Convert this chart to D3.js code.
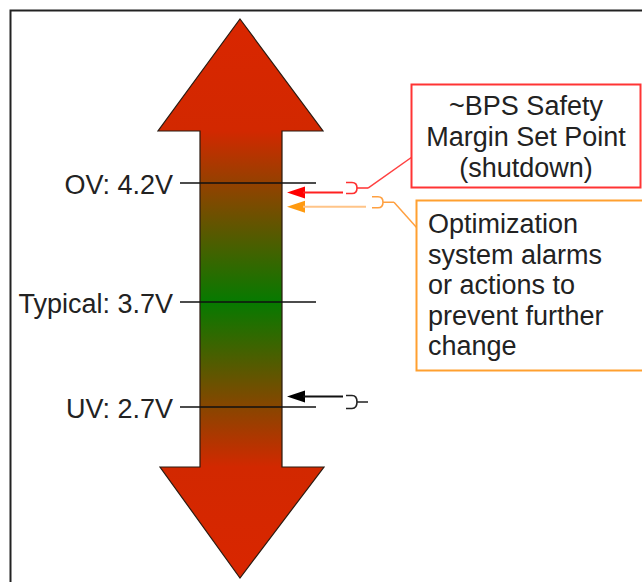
<!DOCTYPE html>
<html>
<head>
<meta charset="utf-8">
<script src="https://cdn.jsdelivr.net/npm/d3@7"></script>
<style>
  body { margin: 0; background: #fff; }
  text { font-family: "Liberation Sans", Arial, sans-serif; }
</style>
</head>
<body>
<div id="chart"></div>
<script>
// voltage levels marked on the arrow
var levelLabels = ["OV: 4.2V", "Typical: 3.7V", "UV: 2.7V"];
var levelVolts = [4.2, 3.7, 2.7];

// pointers on the right side of the arrow
var pointerNames = ["shutdown", "optimization", "undervoltage"];
var pointerVolts = [4.16, 4.10, 2.80];

// callout texts
var redBoxLines = ["~BPS Safety", "Margin Set Point", "(shutdown)"];
var orangeBoxLines = ["Optimization", "system alarms", "or actions to", "prevent further", "change"];

var width = 642;
var height = 582;

var svg = d3.select("#chart")
  .append("svg")
  .attr("width", width)
  .attr("height", height);

// piecewise scale from volts to vertical position
var y = d3.scaleLinear()
  .domain([4.2, 3.7, 2.7])
  .range([183, 302, 407]);

var cx = 240; // arrow centre
var shaftL = 200, shaftR = 282;
var headL = 158, headR = 323;
var topTip = 19, topBase = 131, botBase = 467, botTip = 578;

// gradient red -> green -> red
var defs = svg.append("defs");
var grad = defs.append("linearGradient")
  .attr("id", "volt")
  .attr("gradientUnits", "userSpaceOnUse")
  .attr("x1", 0).attr("x2", 0)
  .attr("y1", topTip).attr("y2", botTip);

function off(py) { return (py - topTip) / (botTip - topTip); }

grad.append("stop").attr("offset", 0).attr("stop-color", "#d92600");
grad.append("stop").attr("offset", off(topBase)).attr("stop-color", "#d22800");
grad.append("stop").attr("offset", off(y(3.7))).attr("stop-color", "#067a00");
grad.append("stop").attr("offset", off(botBase)).attr("stop-color", "#d22800");
grad.append("stop").attr("offset", 1).attr("stop-color", "#d92600");

// frame (top and left edges)
svg.append("path")
  .attr("d", "M10.5," + height + "V10.5H" + width)
  .attr("fill", "none")
  .attr("stroke", "#222")
  .attr("stroke-width", 2);

// the double arrow
var arrowPts = [
  [cx, topTip], [headR, topBase], [shaftR, topBase], [shaftR, botBase],
  [headR + 1, botBase], [cx, botTip], [headL + 2, botBase], [shaftL, botBase],
  [shaftL, topBase], [headL, topBase]
];
svg.append("path")
  .attr("d", d3.line()(arrowPts) + "Z")
  .attr("fill", "url(#volt)")
  .attr("stroke", "#2a1a10")
  .attr("stroke-width", 1.2);

// level lines and labels
var levels = svg.selectAll("g.level")
  .data(levelLabels)
  .enter()
  .append("g")
  .attr("class", "level");

levels.append("line")
  .attr("x1", 180).attr("x2", 316)
  .attr("y1", function(d, i) { return y(levelVolts[i]); })
  .attr("y2", function(d, i) { return y(levelVolts[i]); })
  .attr("stroke", "#111")
  .attr("stroke-width", 1.5);

levels.append("text")
  .attr("x", 173)
  .attr("y", function(d, i) { return y(levelVolts[i]) + 10.5; })
  .attr("text-anchor", "end")
  .attr("font-size", 27)
  .attr("fill", "#222")
  .text(function(d) { return d; });

// pointers
var headColors = ["#ff0000", "#ff9a10", "#000"];
var lineColors = ["#ff2020", "#ffc488", "#111"];
var brColors = ["#ff3030", "#ffa040", "#222"];
var lineEnd = [343, 366, 343];
var brX = [346, 372, 346];

pointerNames.forEach(function(name, i) {
  var py = y(pointerVolts[i]);
  var g = svg.append("g").attr("class", "pointer " + name);
  var tip = shaftR + 5;
  g.append("path")
    .attr("d", "M" + tip + "," + py + "L" + (tip + 18) + "," + (py - 6) +
      "L" + (tip + 18) + "," + (py + 6) + "Z")
    .attr("fill", headColors[i]);
  g.append("line")
    .attr("x1", tip + 16).attr("x2", lineEnd[i])
    .attr("y1", py).attr("y2", py)
    .attr("stroke", lineColors[i])
    .attr("stroke-width", 2);

  // small bracket connector
  var top = i === 2 ? py - 1 : py - 10;
  var bot = i === 2 ? py + 12 : py + 1;
  var mid = (top + bot) / 2;
  var bx = brX[i];
  g.append("path")
    .attr("d", "M" + bx + "," + top + "H" + (bx + 6) +
      "Q" + (bx + 11) + "," + top + " " + (bx + 11) + "," + mid +
      "Q" + (bx + 11) + "," + bot + " " + (bx + 6) + "," + bot + "H" + bx +
      "M" + (bx + 11) + "," + mid + "H" + (bx + 22))
    .attr("fill", "none")
    .attr("stroke", brColors[i])
    .attr("stroke-width", 1.6);
});

// callout leader lines
var redMid = (y(pointerVolts[0]) - 10 + y(pointerVolts[0]) + 1) / 2;
svg.append("line")
  .attr("x1", 368).attr("y1", redMid)
  .attr("x2", 412).attr("y2", 157)
  .attr("stroke", "#ff4040")
  .attr("stroke-width", 1.5);

var orMid = (y(pointerVolts[1]) - 10 + y(pointerVolts[1]) + 1) / 2;
svg.append("line")
  .attr("x1", 394).attr("y1", orMid)
  .attr("x2", 417).attr("y2", 228)
  .attr("stroke", "#ffa040")
  .attr("stroke-width", 1.5);

// red callout box
svg.append("rect")
  .attr("x", 411.5).attr("y", 84.5)
  .attr("width", 229).attr("height", 103)
  .attr("fill", "#fff")
  .attr("stroke", "#ff3434")
  .attr("stroke-width", 2);

svg.append("g").selectAll("text")
  .data(redBoxLines)
  .enter()
  .append("text")
  .attr("x", 526)
  .attr("y", function(d, i) { return 115 + i * 31; })
  .attr("text-anchor", "middle")
  .attr("font-size", 27)
  .attr("fill", "#222")
  .text(function(d) { return d; });

// orange callout box
svg.append("rect")
  .attr("x", 416.5).attr("y", 200.5)
  .attr("width", 240).attr("height", 170)
  .attr("fill", "#fff")
  .attr("stroke", "#ffa030")
  .attr("stroke-width", 2);

svg.append("g").selectAll("text")
  .data(orangeBoxLines)
  .enter()
  .append("text")
  .attr("x", 428)
  .attr("y", function(d, i) { return 233 + i * 30.5; })
  .attr("font-size", 27)
  .attr("fill", "#222")
  .text(function(d) { return d; });
</script>
</body>
</html>
